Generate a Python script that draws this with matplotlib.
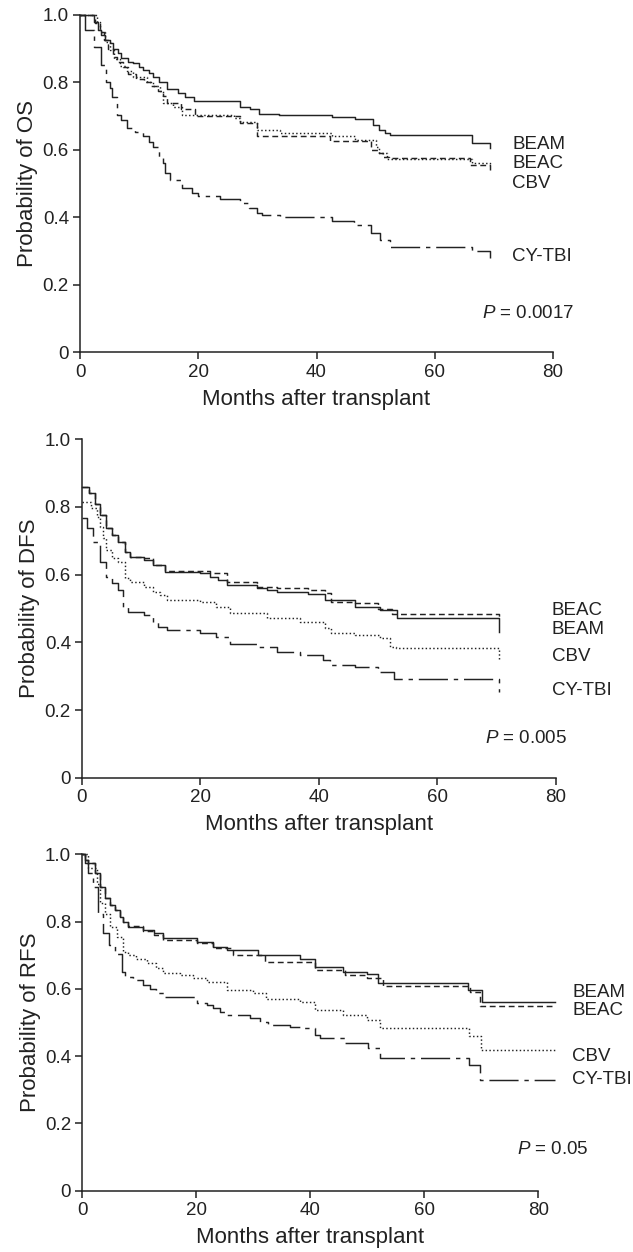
import matplotlib
matplotlib.use('Agg')
import matplotlib.pyplot as plt

plt.rcParams['font.family'] = ['Liberation Sans', 'DejaVu Sans']
plt.rcParams['mathtext.fontset'] = 'custom'
plt.rcParams['mathtext.rm'] = 'Liberation Sans'
plt.rcParams['mathtext.it'] = 'Liberation Sans:italic'

# ---- OS panel ----
os_beam_t = [0, 2.3, 3.1, 3.6, 4.2, 5.1, 5.6, 6.5, 7.0, 8.2, 9.0, 9.9, 10.7, 11.6, 12.4, 13.3, 14.7, 16.6,
             17.8, 19.2, 27.1, 28.8, 30.2, 33.6, 42.6, 46.5, 49.6, 50.6, 51.6, 52.5, 66.3, 69.4]
os_beam_s = [1.0, 0.98, 0.955, 0.94, 0.926, 0.916, 0.90, 0.886, 0.872, 0.862, 0.857, 0.847, 0.837, 0.827,
             0.817, 0.802, 0.78, 0.768, 0.758, 0.746, 0.728, 0.72, 0.708, 0.703, 0.697, 0.691, 0.674, 0.659,
             0.65, 0.644, 0.62, 0.605]
os_beac_t = [0, 2.5, 3.3, 4.0, 4.8, 5.5, 6.3, 7.2, 8.2, 9.5, 10.8, 12.0, 13.2, 14.0, 14.7, 17.0, 19.5, 27.1,
             29.9, 42.3, 49.3, 50.5, 51.3, 52.2, 66.0, 69.4]
os_beac_s = [1.0, 0.975, 0.95, 0.925, 0.90, 0.875, 0.86, 0.845, 0.825, 0.81, 0.80, 0.79, 0.775, 0.76, 0.74,
             0.72, 0.70, 0.679, 0.64, 0.627, 0.60, 0.59, 0.58, 0.575, 0.557, 0.54]
os_cbv_t = [0, 2.8, 3.4, 4.2, 5.0, 5.8, 6.8, 7.9, 9.0, 11.3, 12.4, 13.5, 14.1, 15.8, 17.2, 26.0, 27.1, 29.9,
            33.8, 42.6, 46.5, 50.0, 50.6, 52.0, 66.3, 69.4]
os_cbv_s = [1.0, 0.98, 0.95, 0.92, 0.895, 0.87, 0.85, 0.835, 0.815, 0.80, 0.79, 0.775, 0.738, 0.728, 0.704,
            0.694, 0.684, 0.66, 0.651, 0.64, 0.63, 0.61, 0.59, 0.572, 0.56, 0.553]
os_cytbi_t = [0, 0.8, 2.3, 3.6, 4.4, 5.0, 5.4, 6.2, 7.0, 7.9, 9.3, 10.7, 11.6, 12.4, 13.3, 14.0, 14.4, 15.2,
              17.2, 18.9, 20.0, 23.7, 27.1, 28.5, 29.9, 30.7, 33.8, 42.6, 46.3, 49.3, 50.7, 52.5, 66.3, 69.4]
os_cytbi_s = [1.0, 0.955, 0.906, 0.852, 0.80, 0.783, 0.758, 0.704, 0.689, 0.664, 0.654, 0.64, 0.625, 0.61,
              0.58, 0.56, 0.531, 0.511, 0.486, 0.472, 0.465, 0.455, 0.442, 0.427, 0.412, 0.407, 0.40, 0.39,
              0.378, 0.353, 0.334, 0.314, 0.30, 0.279]

# ---- DFS panel ----
dfs_beam_t = [0, 1.1, 2.2, 3.0, 4.1, 5.0, 6.1, 7.3, 8.1, 10.4, 12.0, 14.0, 19.9, 21.6, 23.0, 24.4, 29.5, 31.2,
              32.9, 38.2, 41.0, 46.1, 50.3, 53.1, 70.3]
dfs_beam_s = [0.858, 0.84, 0.81, 0.776, 0.737, 0.717, 0.697, 0.668, 0.653, 0.643, 0.628, 0.609, 0.604, 0.594,
              0.584, 0.569, 0.56, 0.555, 0.55, 0.543, 0.525, 0.505, 0.495, 0.471, 0.431]
dfs_beac_t = [0, 1.1, 2.2, 3.0, 4.1, 5.0, 6.1, 7.3, 8.1, 10.4, 12.0, 14.0, 21.6, 24.4, 29.5, 32.9, 38.2, 41.0,
              42.0, 46.1, 50.0, 52.3, 70.3]
dfs_beac_s = [0.858, 0.84, 0.81, 0.776, 0.737, 0.717, 0.697, 0.668, 0.653, 0.648, 0.628, 0.612, 0.604, 0.579,
              0.564, 0.56, 0.555, 0.545, 0.52, 0.515, 0.50, 0.483, 0.47]
dfs_cbv_t = [0, 1.6, 2.5, 3.0, 3.6, 4.1, 5.0, 6.1, 7.3, 8.1, 10.4, 12.0, 13.2, 14.3, 19.9, 22.7, 25.0, 31.2,
             36.8, 41.0, 42.1, 46.1, 50.3, 52.0, 53.0, 70.3]
dfs_cbv_s = [0.815, 0.796, 0.771, 0.742, 0.707, 0.673, 0.648, 0.638, 0.589, 0.579, 0.564, 0.55, 0.54, 0.525,
             0.52, 0.505, 0.486, 0.471, 0.461, 0.441, 0.428, 0.422, 0.412, 0.387, 0.382, 0.348]
dfs_cytbi_t = [0, 0.8, 1.9, 3.0, 4.1, 5.0, 6.1, 7.0, 7.8, 10.4, 12.0, 12.9, 14.3, 19.9, 22.7, 25.0, 29.5,
               32.9, 36.8, 40.7, 41.9, 46.1, 50.0, 52.6, 70.3]
dfs_cytbi_s = [0.766, 0.737, 0.697, 0.638, 0.594, 0.574, 0.555, 0.505, 0.49, 0.48, 0.461, 0.446, 0.436,
               0.427, 0.417, 0.394, 0.387, 0.372, 0.364, 0.348, 0.333, 0.328, 0.313, 0.293, 0.254]

# ---- RFS panel ----
rfs_beam_t = [0, 0.5, 1.05, 2.2, 3.1, 4.0, 4.9, 5.7, 6.6, 7.2, 8.1, 10.7, 12.5, 14.2, 20.1, 23.0, 25.3, 30.9,
              38.2, 40.8, 45.8, 49.9, 51.9, 67.7, 70.1, 82.9]
rfs_beam_s = [1.0, 0.983, 0.973, 0.943, 0.904, 0.869, 0.849, 0.834, 0.815, 0.80, 0.785, 0.775, 0.765, 0.75,
              0.74, 0.725, 0.715, 0.70, 0.688, 0.666, 0.651, 0.644, 0.618, 0.597, 0.56, 0.56]
rfs_beac_t = [0, 0.5, 1.05, 2.2, 3.1, 4.0, 4.9, 5.7, 6.6, 7.2, 8.1, 10.7, 12.5, 14.2, 20.1, 23.0, 26.5, 32.0,
              40.8, 46.1, 49.9, 52.8, 68.0, 69.8, 82.9]
rfs_beac_s = [1.0, 0.983, 0.973, 0.943, 0.904, 0.869, 0.849, 0.834, 0.815, 0.80, 0.787, 0.772, 0.76, 0.744,
              0.735, 0.72, 0.70, 0.681, 0.656, 0.641, 0.631, 0.609, 0.592, 0.55, 0.55]
rfs_cbv_t = [0, 1.05, 2.5, 3.1, 4.0, 4.9, 6.0, 7.2, 8.1, 9.5, 11.3, 13.0, 14.2, 17.1, 19.5, 21.8, 25.3, 30.0,
             32.3, 38.2, 40.8, 45.8, 49.9, 52.2, 67.9, 70.0, 82.9]
rfs_cbv_s = [1.0, 0.958, 0.913, 0.854, 0.824, 0.785, 0.755, 0.71, 0.70, 0.69, 0.676, 0.661, 0.646, 0.641,
             0.631, 0.621, 0.597, 0.589, 0.569, 0.56, 0.537, 0.522, 0.507, 0.483, 0.46, 0.418, 0.418]
rfs_cytbi_t = [0, 0.5, 1.05, 1.9, 2.8, 3.7, 4.6, 5.7, 6.9, 7.5, 8.9, 10.7, 11.9, 13.0, 14.5, 20.1, 21.8, 23.0,
               24.2, 25.3, 29.4, 31.2, 32.6, 36.4, 38.2, 40.8, 41.7, 46.1, 50.2, 52.2, 67.9, 69.8, 82.9]
rfs_cytbi_s = [1.0, 0.973, 0.943, 0.904, 0.824, 0.765, 0.73, 0.705, 0.65, 0.636, 0.626, 0.611, 0.601, 0.587,
               0.577, 0.557, 0.552, 0.542, 0.532, 0.522, 0.512, 0.502, 0.492, 0.488, 0.483, 0.463, 0.453,
               0.44, 0.425, 0.395, 0.374, 0.33, 0.33]

styles = {'BEAM': '-', 'BEAC': (0, (4, 2.5)), 'CBV': (0, (1, 1.6)), 'CY-TBI': (0, (20, 4, 3, 4))}

panels = [
    ('Probability of OS', [('BEAM', os_beam_t, os_beam_s), ('BEAC', os_beac_t, os_beac_s),
                           ('CBV', os_cbv_t, os_cbv_s), ('CY-TBI', os_cytbi_t, os_cytbi_s)],
     [('BEAM', 73.1, 0.615), ('BEAC', 73.1, 0.561), ('CBV', 73.1, 0.502), ('CY-TBI', 73.1, 0.283)],
     ('$P$ = 0.0017', 68.0, 0.117), [80 / 633, 1 - 352.5 / 1252, 473 / 633, 337.5 / 1252]),
    ('Probability of DFS', [('BEAM', dfs_beam_t, dfs_beam_s), ('BEAC', dfs_beac_t, dfs_beac_s),
                            ('CBV', dfs_cbv_t, dfs_cbv_s), ('CY-TBI', dfs_cytbi_t, dfs_cytbi_s)],
     [('BEAC', 79.3, 0.494), ('BEAM', 79.3, 0.439), ('CBV', 79.3, 0.357), ('CY-TBI', 79.3, 0.257)],
     ('$P$ = 0.005', 68.0, 0.117), [82 / 633, 1 - 777.7 / 1252, 474 / 633, 338.4 / 1252]),
    ('Probability of RFS', [('BEAM', rfs_beam_t, rfs_beam_s), ('BEAC', rfs_beac_t, rfs_beac_s),
                            ('CBV', rfs_cbv_t, rfs_cbv_s), ('CY-TBI', rfs_cytbi_t, rfs_cytbi_s)],
     [('BEAM', 86.0, 0.589), ('BEAC', 86.0, 0.535), ('CBV', 86.0, 0.398), ('CY-TBI', 86.0, 0.331)],
     ('$P$ = 0.05', 76.3, 0.123), [82.3 / 633, 1 - 1190.7 / 1252, 456 / 633, 336.4 / 1252]),
]

ink = '#222222'
fig = plt.figure(figsize=(6.33, 12.52), dpi=100)
for ylab, curves, labels, ptext, pos in panels:
    ax = fig.add_axes(pos)
    for name, t, s in curves:
        ax.step(t, s, where='post', color=ink, lw=1.05, linestyle=styles[name], clip_on=False)
    for txt, x, y in labels:
        ax.text(x, y, txt, fontsize=13.5, color=ink, va='center', ha='left')
    ax.text(ptext[1], ptext[2], ptext[0], fontsize=13.5, color=ink, va='center', ha='left')
    ax.set_xlim(0, 80)
    ax.set_ylim(0, 1.0)
    ax.set_xticks([0, 20, 40, 60, 80])
    ax.set_yticks([0, 0.2, 0.4, 0.6, 0.8, 1.0])
    ax.set_yticklabels(['0', '0.2', '0.4', '0.6', '0.8', '1.0'])
    ax.spines['top'].set_visible(False)
    ax.spines['right'].set_visible(False)
    for sp in ['left', 'bottom']:
        ax.spines[sp].set_linewidth(1.1)
        ax.spines[sp].set_color(ink)
    ax.tick_params(direction='out', length=5, width=1.1, labelsize=13.5, colors=ink, pad=3)
    ax.set_xlabel('Months after transplant', fontsize=16, color=ink, labelpad=6)
    ax.set_ylabel(ylab, fontsize=16, color=ink, labelpad=3)

fig.savefig('out.png', dpi=100)
